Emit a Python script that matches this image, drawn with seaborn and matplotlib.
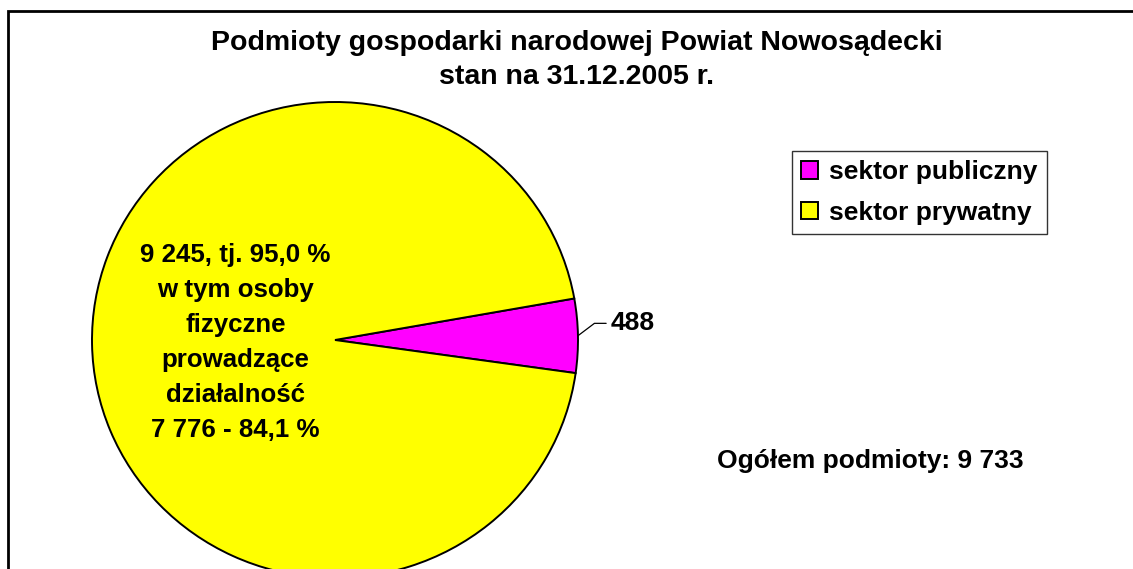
import numpy as np
import matplotlib
matplotlib.use("Agg")
import matplotlib.pyplot as plt
from matplotlib.patches import Rectangle
import seaborn as sns

# dane
sectors = ["sektor publiczny", "sektor prywatny"]
counts = [488, 9245]
total_label = "Ogółem podmioty: 9 733"
title = "Podmioty gospodarki narodowej Powiat Nowosądecki\nstan na 31.12.2005 r."
private_label = ("9 245, tj. 95,0 %\nw tym osoby\nfizyczne\nprowadzące\n"
                 "działalność\n7 776 - 84,1 %")

sns.set_theme(style="white")
plt.rcParams["font.family"] = ["Liberation Sans", "DejaVu Sans"]
plt.rcParams["font.weight"] = "bold"
plt.rcParams["text.color"] = "black"

W, H = 1133, 569
fig = plt.figure(figsize=(W / 100, H / 100), dpi=100)
fig.patch.set_facecolor("white")

# ramka wykresu (prawa i dolna krawedz poza obrazem)
fig.add_artist(Rectangle((8 / W, -0.2), 1.2, 1.2 - 11 / H, transform=fig.transFigure,
                         fill=False, edgecolor="black", lw=2))

colors = sns.color_palette(["#FF00FF", "#FFFF00"])

# kolo: srodek (335, 340) px, promien 243 x 238 px
cx, cy, rx, ry = 335, 340, 243, 238
ax = fig.add_axes([(cx - rx) / W, 1 - (cy + ry) / H, 2 * rx / W, 2 * ry / H])
wedges, _ = ax.pie(counts, colors=colors, startangle=-8, counterclock=True,
                   wedgeprops=dict(edgecolor="black", linewidth=1.4))
ax.set_aspect("auto")
ax.set_xlim(-1, 1)
ax.set_ylim(-1, 1)
ax.axis("off")

# etykieta sektora publicznego
pub = wedges[0]
mid = np.deg2rad((pub.theta1 + pub.theta2) / 2)
ax.annotate(str(counts[0]), xy=(np.cos(mid), np.sin(mid)), xytext=(1.135, 0.07),
            ha="left", va="center", fontsize=19, fontweight="bold",
            arrowprops=dict(arrowstyle="-", color="black", lw=0.9,
                            connectionstyle="angle,angleA=0,angleB=37",
                            shrinkA=1, shrinkB=0))

# etykieta sektora prywatnego
prv = wedges[1]
mid2 = np.deg2rad((prv.theta1 + prv.theta2) / 2)
ax.text(0.41 * np.cos(mid2), -0.01, private_label, ha="center", va="center",
        fontsize=18.6, fontweight="bold", linespacing=1.58)

fig.text(577 / W, 1 - 60 / H, title, ha="center", va="center",
         fontsize=20.5, fontweight="bold", linespacing=1.37)

fig.text(870 / W, 1 - 461 / H, total_label, ha="center", va="center",
         fontsize=19, fontweight="bold")

leg = fig.legend(wedges, sectors, loc="upper left", bbox_to_anchor=(792 / W, 1 - 151 / H),
                 frameon=True, fancybox=False, fontsize=19, handlelength=0.65,
                 handleheight=0.65, handletextpad=0.4, borderpad=0.35,
                 labelspacing=0.62, borderaxespad=0)
leg.get_frame().set_edgecolor("black")
leg.get_frame().set_linewidth(1)
for t in leg.get_texts():
    t.set_fontweight("bold")

fig.savefig("out.png", dpi=100, facecolor="white")
